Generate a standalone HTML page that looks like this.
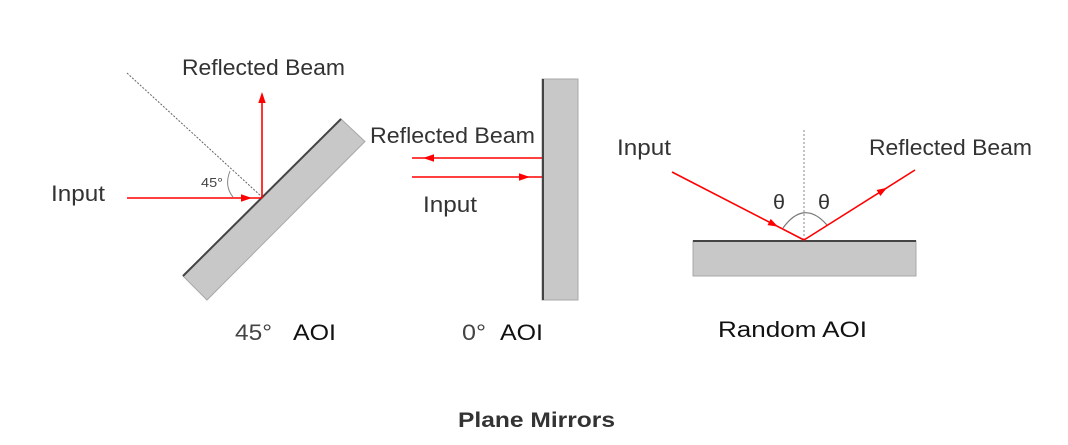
<!DOCTYPE html>
<html><head><meta charset="utf-8"><style>
html,body{margin:0;padding:0;background:#fff;}
svg{display:block;}
text{font-family:"Liberation Sans",sans-serif;}
</style></head><body>
<svg width="1068" height="445" viewBox="0 0 1068 445" xmlns="http://www.w3.org/2000/svg">
<rect width="1068" height="445" fill="#fff"/>

<!-- ===== 45 deg mirror ===== -->
<polygon points="183,276 341,119 365,141.5 207,300" fill="#c8c8c8" stroke="#a8a8a8" stroke-width="1"/>
<line x1="183" y1="276" x2="341" y2="119" stroke="#444" stroke-width="2"/>
<line x1="127" y1="73" x2="262" y2="197" stroke="#666" stroke-width="1" stroke-dasharray="2,1.5"/>
<path d="M230,171 Q224,186 233,197" fill="none" stroke="#888" stroke-width="1"/>
<line x1="127" y1="198" x2="262" y2="198" stroke="#f00" stroke-width="1.6"/>
<polygon points="252,198 241,194.3 241,201.7" fill="#f00"/>
<line x1="262" y1="198" x2="262" y2="100" stroke="#f00" stroke-width="1.6"/>
<polygon points="262,92 258.3,103 265.7,103" fill="#f00"/>
<text x="182" y="75" font-size="22" fill="#333" textLength="163" lengthAdjust="spacingAndGlyphs">Reflected Beam</text>
<text x="51" y="201" font-size="22" fill="#333" textLength="54" lengthAdjust="spacingAndGlyphs">Input</text>
<text x="201" y="187" font-size="13" fill="#444" textLength="22" lengthAdjust="spacingAndGlyphs">45°</text>

<!-- ===== 0 deg mirror ===== -->
<rect x="542" y="79" width="36" height="221" fill="#c8c8c8" stroke="#a8a8a8" stroke-width="1"/>
<line x1="543" y1="79" x2="543" y2="300" stroke="#444" stroke-width="2"/>
<line x1="412" y1="158" x2="542" y2="158" stroke="#f00" stroke-width="1.6"/>
<polygon points="423,158 434,154.3 434,161.7" fill="#f00"/>
<line x1="412" y1="177" x2="542" y2="177" stroke="#f00" stroke-width="1.6"/>
<polygon points="530,177 519,173.3 519,180.7" fill="#f00"/>
<text x="370" y="143" font-size="22" fill="#333" textLength="165" lengthAdjust="spacingAndGlyphs">Reflected Beam</text>
<text x="423" y="212" font-size="22" fill="#333" textLength="54" lengthAdjust="spacingAndGlyphs">Input</text>

<!-- ===== Random AOI mirror ===== -->
<rect x="693" y="241" width="223" height="35" fill="#c8c8c8" stroke="#a8a8a8" stroke-width="1"/>
<line x1="693" y1="241" x2="916" y2="241" stroke="#444" stroke-width="2"/>
<line x1="804" y1="130" x2="804" y2="240" stroke="#888" stroke-width="1" stroke-dasharray="2,2"/>
<path d="M783,228 Q804,199 827,225" fill="none" stroke="#777" stroke-width="1.2"/>
<line x1="672" y1="172" x2="804" y2="240" stroke="#f00" stroke-width="1.6"/>
<polygon points="778,226.6 767.5,225.1 770.7,218.9" fill="#f00"/>
<line x1="804" y1="240" x2="915" y2="170" stroke="#f00" stroke-width="1.6"/>
<polygon points="887,187.7 880.4,196 876.6,190" fill="#f00"/>
<text x="773" y="209" font-size="20" fill="#333" textLength="12" lengthAdjust="spacingAndGlyphs">θ</text>
<text x="818" y="209" font-size="20" fill="#333" textLength="12" lengthAdjust="spacingAndGlyphs">θ</text>
<text x="617" y="155" font-size="22" fill="#333" textLength="54" lengthAdjust="spacingAndGlyphs">Input</text>
<text x="869" y="155" font-size="22" fill="#333" textLength="163" lengthAdjust="spacingAndGlyphs">Reflected Beam</text>

<!-- ===== Labels ===== -->
<text x="235" y="340" font-size="22" fill="#444" textLength="37" lengthAdjust="spacingAndGlyphs">45°</text>
<text x="293" y="340" font-size="22" fill="#111" textLength="43" lengthAdjust="spacingAndGlyphs">AOI</text>
<text x="462" y="340" font-size="22" fill="#444" textLength="24" lengthAdjust="spacingAndGlyphs">0°</text>
<text x="500" y="340" font-size="22" fill="#111" textLength="43" lengthAdjust="spacingAndGlyphs">AOI</text>
<text x="718" y="337" font-size="22" fill="#111" textLength="149" lengthAdjust="spacingAndGlyphs">Random AOI</text>
<text x="458" y="427" font-size="21" font-weight="bold" fill="#333" textLength="157" lengthAdjust="spacingAndGlyphs">Plane Mirrors</text>
</svg>
</body></html>
